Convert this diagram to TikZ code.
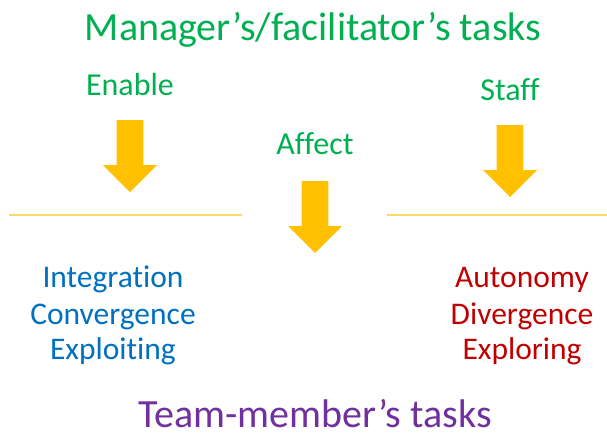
\documentclass[tikz,border=0pt]{standalone}
\usepackage{fontspec}
\setmainfont[Ligatures=NoCommon]{Carlito}
\usepackage{tikz}
\usetikzlibrary{positioning}
\definecolor{managercolor}{HTML}{00B050}
\definecolor{integrcolor}{HTML}{0070C0}
\definecolor{autocolor}{HTML}{C00000}
\definecolor{teamcolor}{HTML}{7030A0}
\definecolor{arrowcolor}{HTML}{FFC000}
\definecolor{rulecolor}{HTML}{FFD966}

\tikzset{
    heading/.style={anchor=base, inner sep=0pt, font=\fontsize{40}{40}\selectfont},
    action/.style={anchor=base, inner sep=0pt, color=managercolor, font=\fontsize{32}{32}\selectfont},
    trait/.style={anchor=base, inner sep=0pt, font=\fontsize{31.5}{31.5}\selectfont},
    blockarrow/.style={fill=arrowcolor, draw=none},
    divider/.style={draw=rulecolor, line width=1.5pt}
}

\begin{document}
\begin{tikzpicture}[x=1pt, y=-1pt]
    \useasboundingbox (0,0) rectangle (607,439);

    % Titles
    \node[heading, color=managercolor] (mgr) at (313,40) {Manager’s/facilitator’s tasks};
    \node[heading, color=teamcolor] (team) at (315,427) {Team-member’s tasks};

    % Manager actions
    \node[action] (enable) at (130,95) {Enable};
    \node[action] (affect) at (315,154) {Affect};
    \node[action] (staff) at (510,100) {Staff};

    % Block arrows (centre x / top y)
    \foreach \cx/\ty in {130/120, 315/181, 510/125} {
        \fill[blockarrow] (\cx-13.3,\ty) -- (\cx+13.3,\ty) -- (\cx+13.3,\ty+45)
            -- (\cx+27,\ty+45) -- (\cx,\ty+72) -- (\cx-27,\ty+45)
            -- (\cx-13.3,\ty+45) -- cycle;
    }

    % Dividers
    \draw[divider] (9,215) -- (242,215);
    \draw[divider] (387,215) -- (607,215);

    % Team-member traits
    \foreach \y/\word [count=\i] in {287/Integration, 324/Convergence, 359/Exploiting} {
        \node[trait, color=integrcolor] (left\i) at (113,\y) {\word};
    }
    \foreach \y/\word [count=\i] in {287/Autonomy, 324/Divergence, 359/Exploring} {
        \node[trait, color=autocolor] (right\i) at (522,\y) {\word};
    }
\end{tikzpicture}
\end{document}
